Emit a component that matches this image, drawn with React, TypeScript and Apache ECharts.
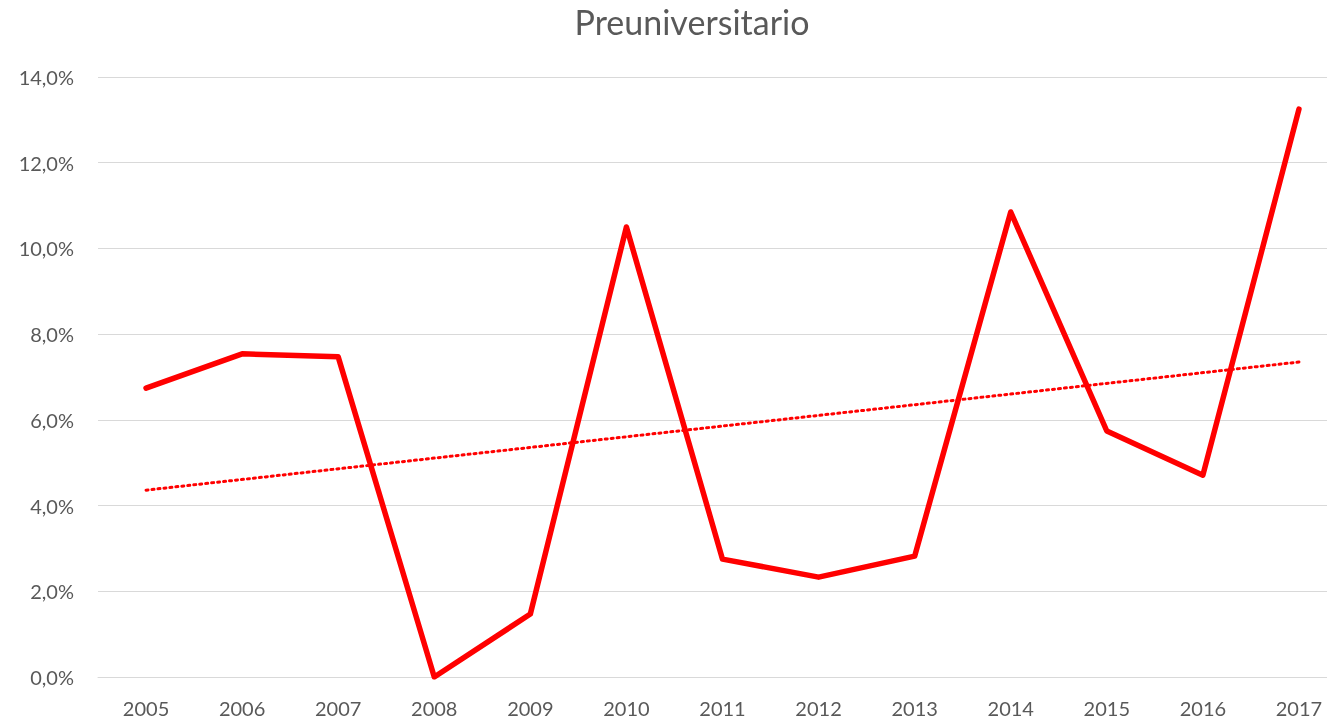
import React, { useEffect, useRef } from "react";
import * as echarts from "echarts";

const years = ["2005", "2006", "2007", "2008", "2009", "2010", "2011", "2012", "2013", "2014", "2015", "2016", "2017"];
const values = [6.74, 7.54, 7.47, 0.0, 1.47, 10.5, 2.75, 2.33, 2.82, 10.85, 5.74, 4.71, 13.25];
const trend = [4.36, null, null, null, null, null, null, null, null, null, null, null, 7.35];
const yTicks = { min: 0, max: 14, interval: 2 };
const titleText = "Preuniversitario";

export default function App() {
  const ref = useRef<HTMLDivElement>(null);
  useEffect(() => {
    const chart = echarts.init(ref.current!, null, { renderer: "svg" });
    const font = "Lato, Open Sans, sans-serif";
    chart.setOption({
      animation: false,
      title: {
        text: titleText,
        left: 687,
        textAlign: "center",
        top: -1,
        textStyle: { fontFamily: font, fontSize: 34, fontWeight: "normal", color: "#595959" },
      },
      grid: { left: 98, right: 13, top: 77, bottom: 44, containLabel: false },
      xAxis: {
        type: "category",
        data: years,
        boundaryGap: true,
        axisLine: { lineStyle: { color: "#d9d9d9", width: 1 } },
        axisTick: { show: false },
        axisLabel: { color: "#595959", fontFamily: font, fontSize: 20, margin: 21 },
      },
      yAxis: {
        type: "value",
        min: yTicks.min,
        max: yTicks.max,
        interval: yTicks.interval,
        axisLine: { show: false },
        axisTick: { show: false },
        splitLine: { lineStyle: { color: "#d9d9d9", width: 1 } },
        axisLabel: {
          color: "#595959",
          fontFamily: font,
          fontSize: 20,
          margin: 24,
          formatter: (v: number) => v.toFixed(1).replace(".", ",") + "%",
        },
      },
      series: [
        {
          type: "line",
          data: values,
          symbol: "none",
          lineStyle: { color: "#ff0000", width: 5.5, cap: "round", join: "round" },
        },
        {
          type: "line",
          data: trend,
          connectNulls: true,
          symbol: "none",
          lineStyle: { color: "#ff0000", width: 3, type: [2, 4], cap: "round" },
        },
      ],
    });
    return () => chart.dispose();
  }, []);
  return <div ref={ref} style={{ position: "fixed", left: 0, top: 0, width: 1360, height: 721 }} />;
}
